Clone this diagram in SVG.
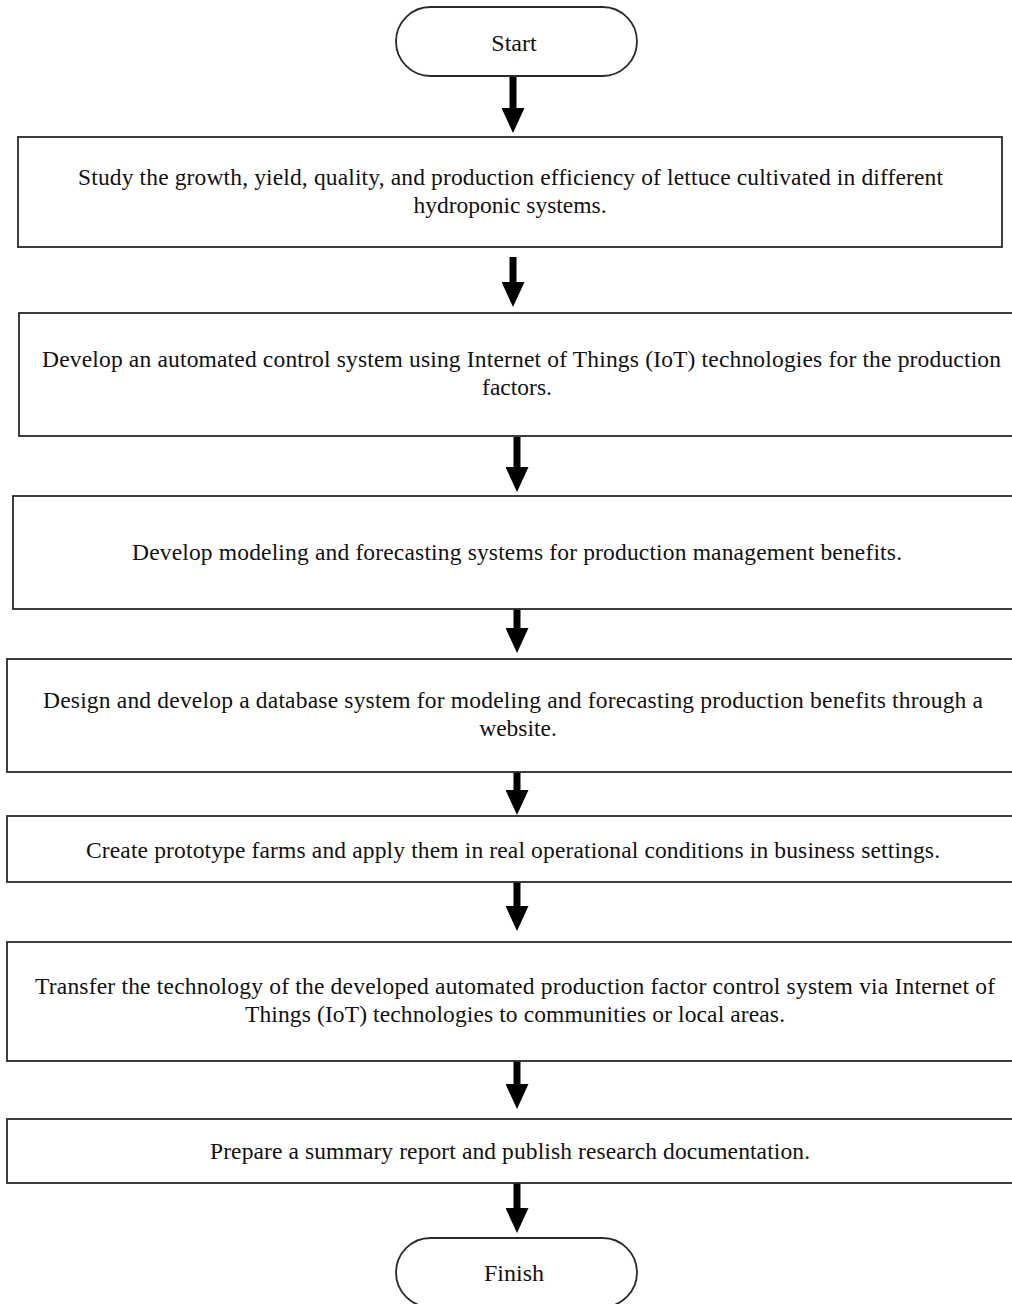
<svg xmlns="http://www.w3.org/2000/svg" width="1012" height="1304" viewBox="0 0 1012 1304">
<defs>
<style>
.box{fill:#fff;stroke:#2a2a2a;stroke-width:1.8}
text{font-family:'Liberation Serif','Times New Roman','DejaVu Serif',serif;font-size:23.5px;fill:#111}
.c{stroke:#000;stroke-width:7;fill:none}
</style>
<marker id="ah" viewBox="0 0 25 23" markerWidth="25" markerHeight="23" refX="0" refY="11.5" markerUnits="userSpaceOnUse" orient="auto">
<path d="M0,0 L25,11.5 L0,23 Z" fill="#000"/>
</marker>
</defs>
<rect width="1012" height="1304" fill="#fff"/>
<g id="connectors">
<line class="c" x1="513" y1="76" x2="513" y2="108" marker-end="url(#ah)"/>
<line class="c" x1="513" y1="257" x2="513" y2="282" marker-end="url(#ah)"/>
<line class="c" x1="517" y1="437" x2="517" y2="467" marker-end="url(#ah)"/>
<line class="c" x1="517" y1="603" x2="517" y2="628" marker-end="url(#ah)"/>
<line class="c" x1="517" y1="765" x2="517" y2="790" marker-end="url(#ah)"/>
<line class="c" x1="517" y1="882" x2="517" y2="906" marker-end="url(#ah)"/>
<line class="c" x1="517" y1="1058" x2="517" y2="1084" marker-end="url(#ah)"/>
<line class="c" x1="517" y1="1180" x2="517" y2="1208" marker-end="url(#ah)"/>
</g>
<g id="start">
<rect class="box" x="396" y="7" width="241" height="69" rx="34.5" ry="34.5"/>
<text x="514" y="51" text-anchor="middle" style="font-size:24px">Start</text>
</g>
<g id="step1">
<rect class="box" x="18" y="137" width="984" height="110"/>
<text x="78" y="185" textLength="865" lengthAdjust="spacing">Study the growth, yield, quality, and production efficiency of lettuce cultivated in different</text>
<text x="510" y="213" text-anchor="middle">hydroponic systems.</text>
</g>
<g id="step2">
<rect class="box" x="19" y="313" width="1000" height="123"/>
<text x="42" y="367" textLength="959" lengthAdjust="spacing">Develop an automated control system using Internet of Things (IoT) technologies for the production</text>
<text x="517" y="395" text-anchor="middle">factors.</text>
</g>
<g id="step3">
<rect class="box" x="13" y="496" width="1006" height="113"/>
<text x="132" y="560" textLength="770" lengthAdjust="spacing">Develop modeling and forecasting systems for production management benefits.</text>
</g>
<g id="step4">
<rect class="box" x="7" y="659" width="1012" height="113"/>
<text x="43" y="708" textLength="940" lengthAdjust="spacing">Design and develop a database system for modeling and forecasting production benefits through a</text>
<text x="518" y="736" text-anchor="middle">website.</text>
</g>
<g id="step5">
<rect class="box" x="7" y="816" width="1012" height="66"/>
<text x="86" y="858" textLength="854" lengthAdjust="spacing">Create prototype farms and apply them in real operational conditions in business settings.</text>
</g>
<g id="step6">
<rect class="box" x="7" y="942" width="1012" height="119"/>
<text x="35" y="994" textLength="960" lengthAdjust="spacing">Transfer the technology of the developed automated production factor control system via Internet of</text>
<text x="245" y="1022" textLength="540" lengthAdjust="spacing">Things (IoT) technologies to communities or local areas.</text>
</g>
<g id="step7">
<rect class="box" x="7" y="1119" width="1012" height="64"/>
<text x="210" y="1159" textLength="600" lengthAdjust="spacing">Prepare a summary report and publish research documentation.</text>
</g>
<g id="finish">
<rect class="box" x="396" y="1238" width="241" height="69" rx="34.5" ry="34.5"/>
<text x="514" y="1281" text-anchor="middle" style="font-size:24px">Finish</text>
</g>
</svg>
